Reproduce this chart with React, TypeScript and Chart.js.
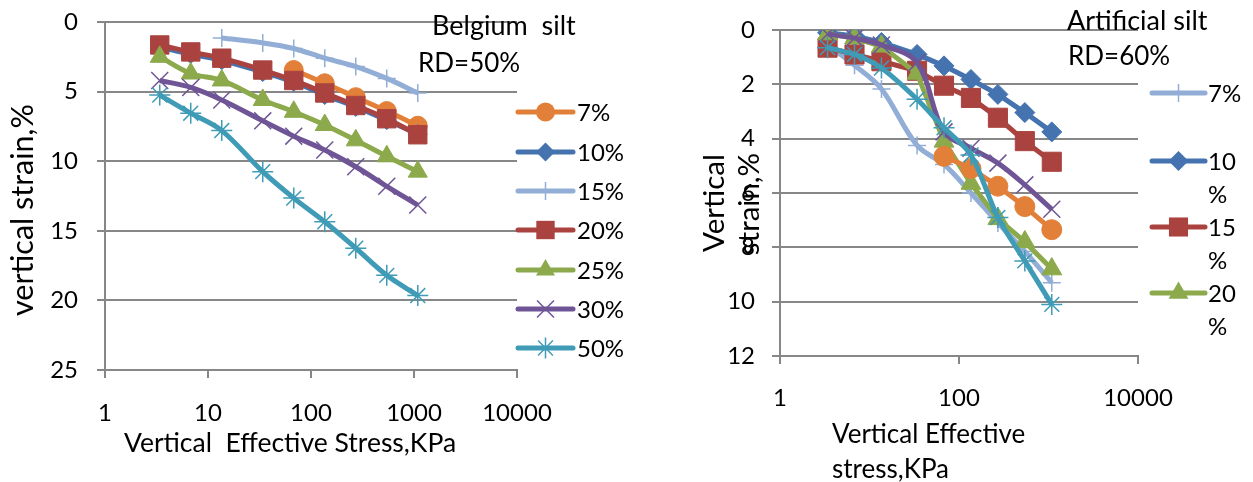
import React, { useEffect, useRef } from "react";
import { Chart, registerables } from "chart.js";

Chart.register(...registerables);

const W = 1253;
const H = 482;
const FONT = "Lato";

// ---------------- Belgium silt, RD = 50% ----------------
const belgiumStress = [3.4, 6.8, 13.6, 34, 68, 136, 272, 544, 1088];
const belgiumLabels = ["7%", "10%", "15%", "20%", "25%", "30%", "50%"];
const belgium7 = [null, null, null, null, 3.45, 4.4, 5.4, 6.4, 7.45];
const belgium10 = [1.8, 2.3, 2.75, 3.6, 4.3, 5.25, 6.1, 7.05, 8.05];
const belgium15 = [null, null, 1.15, 1.5, 1.9, 2.6, 3.2, 4.05, 5.1];
const belgium20 = [1.65, 2.15, 2.6, 3.45, 4.2, 5.1, 6.0, 6.95, 8.1];
const belgium25 = [2.5, 3.7, 4.2, 5.6, 6.45, 7.4, 8.5, 9.65, 10.75];
const belgium30 = [4.2, 4.7, 5.6, 7.1, 8.2, 9.2, 10.4, 11.8, 13.15];
const belgium50 = [5.25, 6.55, 7.8, 10.75, 12.65, 14.35, 16.25, 18.2, 19.65];
const belgiumXTicks = [1, 10, 100, 1000, 10000];
const belgiumYMax = 25;
const belgiumYStep = 5;

// ---------------- Artificial silt, RD = 60% ----------------
const artificialStress = [3.4, 6.8, 13.6, 34, 68, 136, 272, 544, 1088];
const artificialLabels = ["7%", "10%", "15%", "20%", "25%", "30%", "50%"];
const artificial7 = [0.55, 1.3, 2.17, 4.25, 4.95, 6.0, 7.1, 8.15, 9.3];
const artificial10 = [0.1, 0.22, 0.46, 0.9, 1.32, 1.82, 2.37, 3.04, 3.75];
const artificial15 = [0.65, 0.9, 1.15, 1.5, 2.05, 2.5, 3.23, 4.09, 4.85];
const artificial20 = [0.15, 0.3, 0.6, 1.6, 4.1, 5.65, 6.95, 7.8, 8.8];
const artificial25 = [null, null, null, null, 4.65, 5.1, 5.75, 6.5, 7.35];
const artificial30 = [0.15, 0.3, 0.55, 1.2, 3.75, 4.35, 4.9, 5.7, 6.6];
const artificial50 = [0.65, 0.9, 1.4, 2.55, 3.6, 4.6, 6.9, 8.5, 10.1];
const artificialXTicks = [1, 100, 10000];
const artificialYMax = 12;
const artificialYStep = 2;

// ---------------- styles ----------------
const C_ORANGE = "#E2803A";
const C_BLUE = "#4473B0";
const C_LBLUE = "#92AED6";
const C_RED = "#AA433F";
const C_GREEN = "#8CAA4B";
const C_PURPLE = "#6F5596";
const C_TEAL = "#3F9BB6";
const GRID = "#878787";
const TICK_SIZE = 24;
const LEGEND_SIZE = 24;

type Style = "circle" | "rect" | "rectRot" | "triangle" | "cross" | "crossRot" | "star";

function drawMarker(ctx: CanvasRenderingContext2D, style: Style, x: number, y: number, r: number, color: string) {
  ctx.save();
  ctx.fillStyle = color;
  ctx.strokeStyle = color;
  ctx.lineWidth = 1.5;
  ctx.beginPath();
  const d = r * Math.SQRT1_2;
  switch (style) {
    case "circle":
      ctx.arc(x, y, r, 0, Math.PI * 2);
      ctx.fill();
      break;
    case "rect":
      ctx.rect(x - d, y - d, 2 * d, 2 * d);
      ctx.fill();
      break;
    case "rectRot":
      ctx.moveTo(x, y - r);
      ctx.lineTo(x + r, y);
      ctx.lineTo(x, y + r);
      ctx.lineTo(x - r, y);
      ctx.closePath();
      ctx.fill();
      break;
    case "triangle":
      ctx.moveTo(x, y - r);
      ctx.lineTo(x + 0.866 * r, y + 0.5 * r);
      ctx.lineTo(x - 0.866 * r, y + 0.5 * r);
      ctx.closePath();
      ctx.fill();
      break;
    case "cross":
      ctx.moveTo(x, y - r);
      ctx.lineTo(x, y + r);
      ctx.moveTo(x - r, y);
      ctx.lineTo(x + r, y);
      ctx.stroke();
      break;
    case "crossRot":
      ctx.moveTo(x - d, y - d);
      ctx.lineTo(x + d, y + d);
      ctx.moveTo(x + d, y - d);
      ctx.lineTo(x - d, y + d);
      ctx.stroke();
      break;
    case "star":
      ctx.moveTo(x, y - r);
      ctx.lineTo(x, y + r);
      ctx.moveTo(x - r, y);
      ctx.lineTo(x + r, y);
      ctx.moveTo(x - d, y - d);
      ctx.lineTo(x + d, y + d);
      ctx.moveTo(x + d, y - d);
      ctx.lineTo(x - d, y + d);
      ctx.stroke();
      break;
  }
  ctx.restore();
}

type SeriesStyle = { color: string; style: Style; radius: number; tension: number };

function makeDataset(xs: number[], ys: (number | null)[], label: string, st: SeriesStyle, i: number) {
  const filled = st.style === "circle" || st.style === "rect" || st.style === "rectRot" || st.style === "triangle";
  return {
    label,
    data: xs.map((v, k) => ({ x: v, y: ys[k] })),
    borderColor: st.color,
    backgroundColor: st.color,
    borderWidth: 5,
    pointStyle: st.style,
    pointRadius: st.radius,
    pointBackgroundColor: st.color,
    pointBorderColor: st.color,
    pointBorderWidth: filled ? 1 : 1.5,
    tension: st.tension,
    order: -i,
    fill: false,
  };
}

type TextSpec = { text: string; x: number; y: number; size: number; align: CanvasTextAlign; rotate?: boolean };
type LegendSpec = {
  x1: number;
  x2: number;
  tx: number;
  size: number;
  lineGap: number;
  items: { index: number; y: number; lines: string[] }[];
};

function annotPlugin(texts: TextSpec[], legend: LegendSpec, styles: SeriesStyle[]) {
  return {
    id: "annot",
    afterDraw(chart: any) {
      const ctx: CanvasRenderingContext2D = chart.ctx;
      ctx.save();
      ctx.fillStyle = "#000";
      ctx.textBaseline = "alphabetic";
      for (const t of texts) {
        ctx.font = `${t.size}px ${FONT}`;
        ctx.textAlign = t.align;
        if (t.rotate) {
          ctx.save();
          ctx.translate(t.x, t.y);
          ctx.rotate(-Math.PI / 2);
          ctx.fillText(t.text, 0, 0);
          ctx.restore();
        } else {
          ctx.fillText(t.text, t.x, t.y);
        }
      }
      for (const it of legend.items) {
        const st = styles[it.index];
        ctx.save();
        ctx.strokeStyle = st.color;
        ctx.lineWidth = 5;
        ctx.lineCap = "round";
        ctx.beginPath();
        ctx.moveTo(legend.x1, it.y);
        ctx.lineTo(legend.x2, it.y);
        ctx.stroke();
        ctx.restore();
        drawMarker(ctx, st.style, (legend.x1 + legend.x2) / 2, it.y, st.radius, st.color);
        ctx.fillStyle = "#000";
        ctx.font = `${legend.size}px ${FONT}`;
        ctx.textAlign = "left";
        it.lines.forEach((ln, k) => {
          ctx.fillText(ln, legend.tx, it.y + 8.5 + k * legend.lineGap);
        });
      }
      ctx.restore();
    },
  };
}

function scalesFor(xTicks: number[], yMax: number, yStep: number, yWidth: number, xHeight: number, xPad: number, yPad: number) {
  const tickFont = { family: FONT, size: TICK_SIZE };
  return {
    x: {
      type: "logarithmic",
      min: 1,
      max: 10000,
      afterBuildTicks: (s: any) => {
        s.ticks = xTicks.map((v) => ({ value: v }));
      },
      afterFit: (s: any) => {
        s.height = xHeight;
        s.paddingLeft = 0;
        s.paddingRight = 0;
        s.paddingTop = 0;
        s.paddingBottom = 0;
      },
      grid: { drawOnChartArea: false, drawTicks: true, tickLength: 8, color: GRID, lineWidth: 2 },
      border: { display: true, color: GRID, width: 2 },
      ticks: {
        font: tickFont,
        color: "#000",
        padding: xPad,
        maxRotation: 0,
        autoSkip: false,
        callback: (v: any) => String(v),
      },
    },
    y: {
      type: "linear",
      reverse: true,
      min: 0,
      max: yMax,
      afterFit: (s: any) => {
        s.width = yWidth;
        s.paddingLeft = 0;
        s.paddingRight = 0;
        s.paddingTop = 0;
        s.paddingBottom = 0;
      },
      grid: { color: GRID, lineWidth: 2, tickLength: 8 },
      border: { display: true, color: GRID, width: 2 },
      ticks: { stepSize: yStep, font: tickFont, color: "#000", padding: yPad },
    },
  };
}

const belgiumStyles: SeriesStyle[] = [
  { color: C_ORANGE, style: "circle", radius: 9.5, tension: 0.35 },
  { color: C_BLUE, style: "rectRot", radius: 9.5, tension: 0.35 },
  { color: C_LBLUE, style: "cross", radius: 9, tension: 0.35 },
  { color: C_RED, style: "rect", radius: 13, tension: 0.35 },
  { color: C_GREEN, style: "triangle", radius: 11, tension: 0.35 },
  { color: C_PURPLE, style: "crossRot", radius: 12, tension: 0.35 },
  { color: C_TEAL, style: "star", radius: 10.5, tension: 0.35 },
];

const artificialStyles: SeriesStyle[] = [
  { color: C_LBLUE, style: "cross", radius: 9, tension: 0.35 },
  { color: C_BLUE, style: "rectRot", radius: 10, tension: 0 },
  { color: C_RED, style: "rect", radius: 13.5, tension: 0 },
  { color: C_GREEN, style: "triangle", radius: 11.5, tension: 0 },
  { color: C_ORANGE, style: "circle", radius: 10, tension: 0 },
  { color: C_PURPLE, style: "crossRot", radius: 12, tension: 0.35 },
  { color: C_TEAL, style: "star", radius: 10.5, tension: 0.3 },
];

function belgiumConfig(): any {
  const series = [belgium7, belgium10, belgium15, belgium20, belgium25, belgium30, belgium50];
  return {
    type: "line",
    data: {
      datasets: series.map((s, i) => makeDataset(belgiumStress, s, belgiumLabels[i], belgiumStyles[i], i)),
    },
    options: {
      responsive: false,
      animation: false,
      events: [],
      layout: { padding: { left: 0, right: W - 517, top: 22, bottom: 0 } },
      plugins: { legend: { display: false }, tooltip: { enabled: false }, title: { display: false } },
      scales: scalesFor(belgiumXTicks, belgiumYMax, belgiumYStep, 105, H - 370, 21, 19),
    },
    plugins: [
      annotPlugin(
        [
          { text: "Belgium  silt", x: 432, y: 35, size: 27, align: "left" },
          { text: "RD=50%", x: 418, y: 72, size: 26, align: "left" },
          { text: "vertical strain,%", x: 33, y: 210, size: 30.5, align: "center", rotate: true },
          { text: "Vertical  Effective Stress,KPa", x: 290, y: 452, size: 26.5, align: "center" },
        ],
        {
          x1: 518,
          x2: 573,
          tx: 577,
          size: LEGEND_SIZE,
          lineGap: 33,
          items: [112, 152, 191, 230, 270, 309, 348].map((y, i) => ({ index: i, y, lines: [belgiumLabels[i]] })),
        },
        belgiumStyles
      ),
    ],
  };
}

function artificialConfig(): any {
  const series = [artificial7, artificial10, artificial15, artificial20, artificial25, artificial30, artificial50];
  const wrap = (s: string) => (s.length > 2 ? [s.slice(0, -1), s.slice(-1)] : [s]);
  return {
    type: "line",
    data: {
      datasets: series.map((s, i) => makeDataset(artificialStress, s, artificialLabels[i], artificialStyles[i], i)),
    },
    options: {
      responsive: false,
      animation: false,
      events: [],
      layout: { padding: { left: 660, right: W - 1138, top: 30, bottom: 0 } },
      plugins: { legend: { display: false }, tooltip: { enabled: false }, title: { display: false } },
      scales: scalesFor(artificialXTicks, artificialYMax, artificialYStep, 120, H - 356, 20, 17),
    },
    plugins: [
      annotPlugin(
        [
          { text: "Artificial silt", x: 1067, y: 30, size: 27, align: "left" },
          { text: "RD=60%", x: 1068, y: 65, size: 26, align: "left" },
          { text: "Vertical", x: 724, y: 203, size: 29.5, align: "center", rotate: true },
          { text: "strain,%", x: 759, y: 204, size: 29.5, align: "center", rotate: true },
          { text: "Vertical Effective", x: 832, y: 443, size: 26, align: "left" },
          { text: "stress,KPa", x: 832, y: 478, size: 26, align: "left" },
        ],
        {
          x1: 1152,
          x2: 1205,
          tx: 1208,
          size: LEGEND_SIZE,
          lineGap: 33,
          items: [93, 161, 227, 293].map((y, i) => ({ index: i, y, lines: wrap(artificialLabels[i]) })),
        },
        artificialStyles
      ),
    ],
  };
}

function ChartLayer({ makeConfig }: { makeConfig: () => any }) {
  const ref = useRef<HTMLCanvasElement | null>(null);
  useEffect(() => {
    if (!ref.current) return;
    const chart = new Chart(ref.current, makeConfig());
    return () => chart.destroy();
  }, [makeConfig]);
  return (
    <canvas
      ref={ref}
      width={W}
      height={H}
      style={{ position: "absolute", left: 0, top: 0, width: W, height: H, display: "block" }}
    />
  );
}

export default function App() {
  return (
    <div style={{ position: "absolute", left: 0, top: 0, width: W, height: H, background: "#fff", overflow: "hidden" }}>
      <ChartLayer makeConfig={belgiumConfig} />
      <ChartLayer makeConfig={artificialConfig} />
    </div>
  );
}
